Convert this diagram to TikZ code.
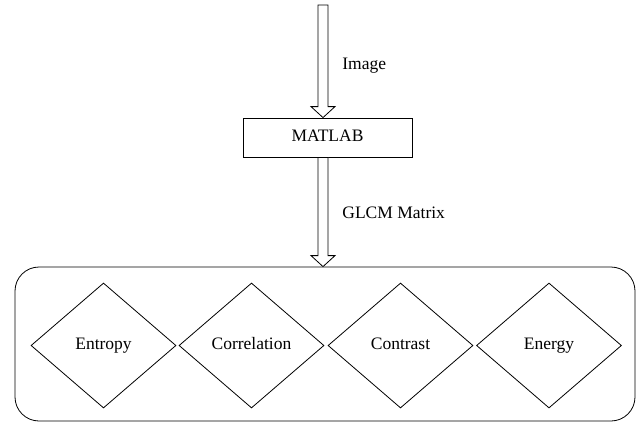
\documentclass[tikz,border=0pt]{standalone}
\usepackage{fontspec}
\setmainfont{Liberation Serif}
\usetikzlibrary{shapes.geometric,calc}
\begin{document}
\begin{tikzpicture}[x=1pt,y=-1pt,
  line width=0.8pt,
  every node/.style={font=\fontsize{17.5}{20}\selectfont},
  procbox/.style={draw, rectangle, minimum width=169pt, minimum height=39pt, inner sep=0pt, text height=12pt, text depth=3.5pt},
  groupbox/.style={draw, rectangle, rounded corners=24pt, minimum width=620pt, minimum height=154pt, inner sep=0pt},
  feat/.style={draw, diamond, minimum width=145pt, minimum height=125pt, aspect=1.16, inner sep=0pt, text height=12pt, text depth=3.5pt},
  lbl/.style={anchor=west, inner sep=0pt}
]
\useasboundingbox (0,0) rectangle (638,423);
\coordinate (in) at (323,5);
\node[procbox] (matlab) at (327.5,137.5) {MATLAB};
\node[groupbox] (group) at (325,344) {};
\node[feat] (entropy) at (103.5,345.5) {Entropy};
\node[feat] (correlation) at (251.5,345.5) {Correlation};
\node[feat] (contrast) at (400.5,345.5) {Contrast};
\node[feat] (energy) at (549,345.5) {Energy};
\node[lbl] (limage) at (342,66) {Image};
\node[lbl] (lglcm) at (342,213) {GLCM Matrix};
% hollow arrow: Image -> MATLAB
\path let \p1=(in), \p2=(matlab.north) in
  [draw, fill=white, line join=miter]
  (\x1-5pt,\y1) -- (\x1+5pt,\y1) -- (\x1+5pt,\y2+11pt) -- (\x1+12pt,\y2+11pt)
  -- (\x1,\y2) -- (\x1-12pt,\y2+11pt) -- (\x1-5pt,\y2+11pt) -- cycle;
% hollow arrow: MATLAB -> group
\path let \p1=(in), \p2=(matlab.south), \p3=(group.north) in
  [draw, fill=white, line join=miter]
  (\x1-5pt,\y2) -- (\x1+5pt,\y2) -- (\x1+5pt,\y3+11pt) -- (\x1+12pt,\y3+11pt)
  -- (\x1,\y3) -- (\x1-12pt,\y3+11pt) -- (\x1-5pt,\y3+11pt) -- cycle;
\end{tikzpicture}
\end{document}
